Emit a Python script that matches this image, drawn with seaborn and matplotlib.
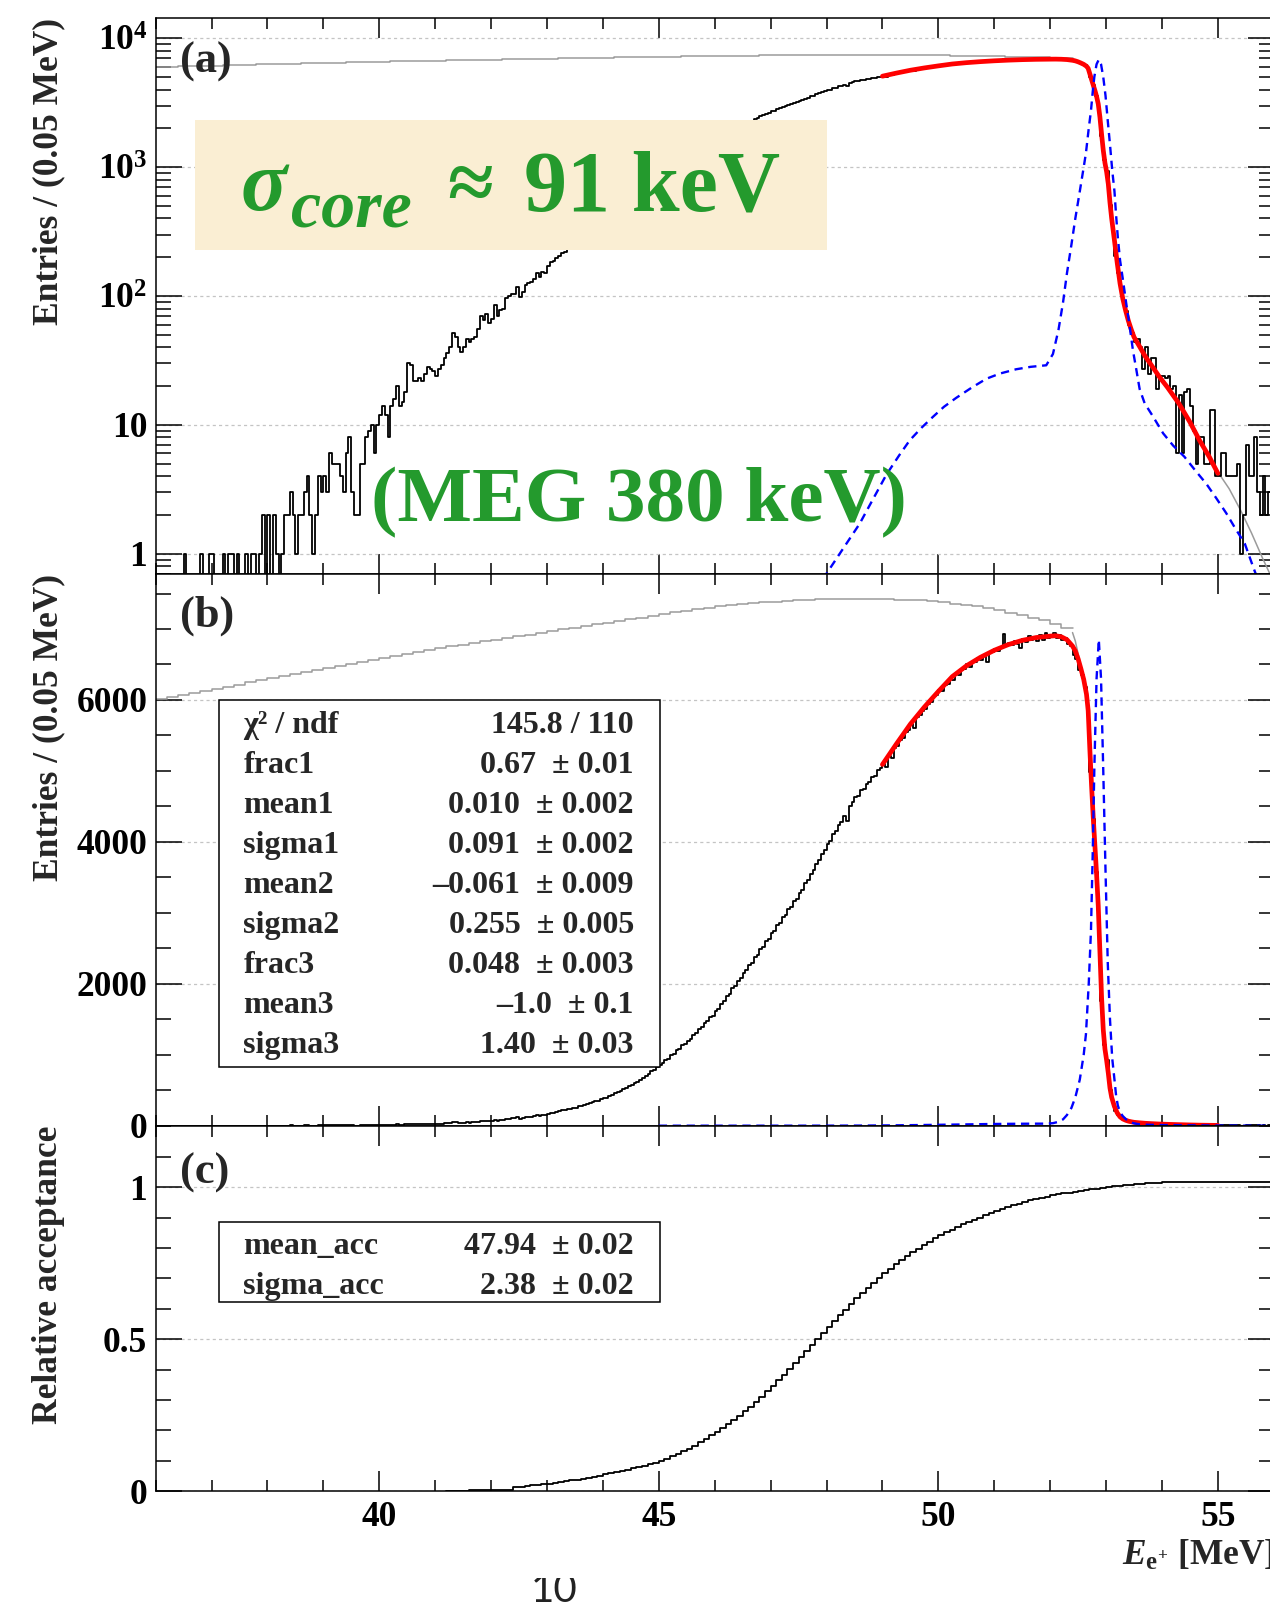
import numpy as np
import pandas as pd
import matplotlib
matplotlib.use("Agg")
import matplotlib.pyplot as plt
import seaborn as sns
from matplotlib.patches import Rectangle
from matplotlib.ticker import (FixedLocator, FixedFormatter, MultipleLocator,
                               LogLocator, NullFormatter)

# ---------------------------------------------------------------------------
# Positron energy spectrum, 0.05 MeV bins starting at 36 MeV (one row per MeV)
# ---------------------------------------------------------------------------
ENTRY_START, ENTRY_BIN = 36.0, 0.05
entries = [
    0, 0, 0, 0, 0, 0, 0, 0, 0, 0, 1, 0, 0, 0, 0, 0, 1, 0, 0, 1,                      # 36
    1, 0, 0, 0, 1, 0, 1, 1, 0, 1, 0, 0, 1, 0, 1, 1, 0, 1, 2, 0,                      # 37
    2, 0, 2, 1, 0, 1, 2, 2, 3, 2, 1, 2, 2, 3, 4, 2, 1, 2, 4, 3,                      # 38
    4, 3, 6, 5, 5, 5, 4, 3, 6, 8, 3, 2, 2, 5, 5, 8, 9, 10, 6, 10,                    # 39
    12, 14, 12, 8, 14, 16, 20, 14, 15, 18, 30, 29, 22, 22, 23, 22, 25, 28, 27, 26,   # 40
    24, 27, 29, 33, 36, 40, 52, 48, 40, 37, 40, 46, 44, 46, 48, 55, 70, 65, 72, 62,  # 41
    66, 85, 70, 78, 80, 97, 100, 104, 103, 118, 98, 108, 122, 126, 128, 135, 150, 140, 155, 150,
    170, 184, 186, 196, 203, 216, 218, 236, 238, 254, 256, 274, 280, 295, 302, 322, 328, 346, 352, 376,
    388, 396, 420, 430, 455, 468, 485, 512, 525, 556, 570, 600, 618, 650, 668, 705, 726, 765, 788, 826,
    862, 878, 925, 945, 990, 1012, 1060, 1080, 1131, 1150, 1196, 1225, 1281, 1305, 1362, 1390, 1445, 1470, 1526, 1552,
    1612, 1650, 1720, 1755, 1830, 1862, 1935, 1970, 2045, 2080, 2152, 2190, 2265, 2300, 2372, 2410, 2490, 2525, 2600, 2638,
    2712, 2745, 2830, 2860, 2940, 2968, 3050, 3080, 3165, 3195, 3278, 3320, 3415, 3460, 3552, 3600, 3695, 3740, 3835, 3880,
    3975, 4010, 4110, 4150, 4240, 4275, 4370, 4300, 4500, 4560, 4635, 4650, 4730, 4745, 4815, 4840, 4910, 4930, 5010, 5040,
    5095, 5060, 5210, 5180, 5320, 5350, 5430, 5460, 5545, 5570, 5660, 5600, 5755, 5790, 5850, 5870, 5950, 5970, 6050, 6070,
    6145, 6120, 6215, 6230, 6290, 6280, 6360, 6350, 6425, 6440, 6500, 6470, 6540, 6530, 6585, 6560, 6630, 6540, 6680, 6670,
    6720, 6690, 6750, 6930, 6760, 6800, 6770, 6830, 6790, 6730, 6860, 6810, 6900, 6840, 6880, 6830, 6920, 6850, 6950, 6870,
    6890, 6950, 6880, 6920, 6850, 6870, 6790, 6760, 6640, 6580, 6420, 6350, 6180, 5920, 4980, 4320, 3580, 2820, 1760, 1140,
    930, 510, 335, 205, 150, 112, 92, 76, 60, 52, 44, 46, 40, 27, 40, 25, 33, 33, 19, 24,
    24, 23, 24, 19, 20, 6, 17, 6, 18, 19, 14, 9, 5, 8, 8, 5, 5, 13, 13, 4,
    4, 6, 6, 4, 4, 4, 4, 5, 1, 2, 7, 4, 4, 8, 3, 2, 4, 2, 3, 3,                      # 55
]

# Spectrum before acceptance (grey), 0.2 MeV bins from 36 MeV, then its falling edge
GRAY_START, GRAY_BIN = 36.0, 0.2
gray_plateau = [
    6015, 6044, 6073, 6102, 6131, 6160, 6189, 6218, 6247, 6276,
    6305, 6334, 6363, 6392, 6421, 6450, 6479, 6508, 6537, 6566,
    6595, 6624, 6653, 6682, 6706, 6730, 6754, 6778, 6802, 6826,
    6850, 6874, 6898, 6922, 6946, 6970, 6994, 7018, 7042, 7066,
    7090, 7114, 7138, 7162, 7186, 7210, 7234, 7258, 7282, 7300,
    7318, 7334, 7348, 7362, 7374, 7386, 7396, 7405, 7412, 7418,
    7422, 7424, 7425, 7424, 7422, 7419, 7415, 7410, 7402, 7390,
    7375, 7358, 7340, 7320, 7295, 7262, 7228, 7195, 7160, 7122,
    7075, 7010,
]
gray_edge_E = [52.4, 52.45, 52.5, 52.55, 52.6, 52.65, 52.7, 52.75, 52.8, 52.85, 52.9,
               52.95, 53.0, 53.05, 53.1, 53.2, 53.3, 53.4, 53.5, 53.7, 54.0, 54.3,
               54.6, 55.0, 55.2, 55.4, 55.6, 55.8, 56.0]
gray_edge_val = [6950, 6830, 6650, 6470, 6320, 6110, 5650, 4760, 3980, 3330, 2330,
                 1370, 1010, 690, 405, 182, 96, 65, 48, 35, 22.5, 15,
                 8.6, 4.3, 3.2, 2.2, 1.45, 0.92, 0.6]

# Fitted model (red)
fit_E = [49.0, 49.25, 49.5, 49.75, 50.0, 50.25, 50.5, 50.75, 51.0, 51.25, 51.5, 51.75,
         52.0, 52.1, 52.2, 52.3, 52.4, 52.45, 52.5, 52.55, 52.6, 52.65, 52.68, 52.71,
         52.74, 52.77, 52.8, 52.83, 52.86, 52.89, 52.92, 52.95, 52.98, 53.01, 53.04,
         53.07, 53.1, 53.15, 53.2, 53.25, 53.3, 53.35, 53.4, 53.45, 53.5, 53.6, 53.7,
         53.8, 53.95, 54.1, 54.3, 54.5, 54.67, 54.85, 55.0]
fit_val = [5090, 5380, 5660, 5900, 6120, 6330, 6480, 6600, 6700, 6780, 6840, 6880,
           6900, 6905, 6890, 6850, 6760, 6690, 6580, 6440, 6290, 6080, 5850, 5300,
           4800, 4350, 3950, 3550, 3100, 2450, 1800, 1350, 1080, 920, 740,
           530, 400, 270, 180, 125, 95, 77, 64, 55, 48, 40.5, 34,
           29.5, 23.7, 19.5, 14.7, 10.5, 7.6, 5.6, 4.2]

# Detector response at the signal energy (blue dashed)
resp_E = [45.0, 45.5, 46.0, 46.5, 47.0, 47.5, 48.0, 48.3, 48.59, 48.8, 49.07, 49.3,
          49.49, 49.7, 49.9, 50.1, 50.32, 50.6, 50.86, 51.1, 51.39, 51.65, 51.93,
          52.05, 52.15, 52.23, 52.3, 52.38, 52.45, 52.53, 52.6, 52.64, 52.69, 52.73,
          52.76, 52.79, 52.83, 52.87, 52.91, 52.95, 52.99, 53.03, 53.07, 53.11, 53.15,
          53.18, 53.21, 53.25, 53.3, 53.36, 53.42, 53.48, 53.54, 53.6, 53.69, 53.84,
          54.02, 54.2, 54.4, 54.6, 54.79, 54.97, 55.15, 55.3, 55.48, 55.63, 55.8, 56.0]
resp_val = [0.03, 0.05, 0.09, 0.16, 0.28, 0.46, 0.70, 1.1, 1.7, 2.5, 4.1, 5.8,
            7.6, 9.5, 11.5, 13.8, 16.2, 19.5, 22.8, 25, 27, 28.2, 29,
            35.5, 55, 89, 150, 250, 400, 650, 1000, 1290, 2000, 2750,
            3800, 5030, 6300, 6850, 6300, 5000, 3600, 2300, 1500, 950, 650,
            420, 286, 190, 135, 88, 59, 38, 27, 19, 14.7, 11.6,
            8.6, 6.9, 5.66, 4.4, 3.5, 2.7, 2.06, 1.6, 1.2, 0.79, 0.5, 0.3]

# Relative acceptance, 0.1 MeV bins from 41.2 MeV
ACC_START, ACC_BIN = 41.2, 0.1
acceptance = [
    0.000, 0.000, 0.001, 0.001, 0.002, 0.002, 0.003, 0.003,
    0.004, 0.004, 0.005, 0.005, 0.014, 0.015, 0.017, 0.019, 0.021, 0.023,
    0.025, 0.027, 0.030, 0.032, 0.035, 0.038, 0.041, 0.044, 0.048, 0.051,
    0.055, 0.058, 0.062, 0.066, 0.070, 0.075, 0.079, 0.084, 0.089, 0.094,
    0.100, 0.107, 0.115, 0.123, 0.131, 0.140, 0.150, 0.161, 0.172, 0.183,
    0.195, 0.208, 0.221, 0.234, 0.248, 0.262, 0.278, 0.294, 0.311, 0.328,
    0.345, 0.364, 0.383, 0.402, 0.421, 0.440, 0.460, 0.480, 0.500, 0.520,
    0.540, 0.559, 0.578, 0.597, 0.616, 0.635, 0.652, 0.669, 0.685, 0.701,
    0.718, 0.732, 0.746, 0.760, 0.774, 0.787, 0.798, 0.809, 0.820, 0.831,
    0.842, 0.851, 0.860, 0.868, 0.877, 0.885, 0.893, 0.900, 0.908, 0.915,
    0.922, 0.928, 0.934, 0.940, 0.946, 0.952, 0.956, 0.960, 0.965, 0.969,
    0.973, 0.976, 0.979, 0.982, 0.985, 0.988, 0.990, 0.993, 0.995, 0.998,
    1.000, 1.002, 1.004, 1.006, 1.008, 1.010, 1.011, 1.013, 1.014, 1.015,
    1.016, 1.016, 1.016, 1.017, 1.017, 1.017, 1.017, 1.017, 1.017, 1.017,
    1.017, 1.017, 1.017, 1.017, 1.017, 1.017, 1.017, 1.017, 1.017, 1.017,
]

# Fit results
fit_names = ["χ² / ndf", "frac1", "mean1", "sigma1", "mean2", "sigma2",
             "frac3", "mean3", "sigma3"]
fit_values = ["145.8 / 110", "0.67  ± 0.01", "0.010  ± 0.002", "0.091  ± 0.002",
              "–0.061  ± 0.009", "0.255  ± 0.005", "0.048  ± 0.003",
              "–1.0  ± 0.1", "1.40  ± 0.03"]
acc_names = ["mean_acc", "sigma_acc"]
acc_values = ["47.94  ± 0.02", "2.38  ± 0.02"]

x_major = [40, 45, 50, 55]
log_ticks = [1, 10, 100, 1000, 10000]
log_labels = ["1", "10", r"$10^{2}$", r"$10^{3}$", r"$10^{4}$"]
lin_ticks = [0, 2000, 4000, 6000]
lin_labels = ["0", "2000", "4000", "6000"]
acc_ticks = [0, 0.5, 1]
acc_labels = ["0", "0.5", "1"]

# ---------------------------------------------------------------------------
sns.set_theme(style="ticks")
plt.rcParams["font.family"] = ["Liberation Serif", "DejaVu Serif"]
plt.rcParams["font.weight"] = "bold"
plt.rcParams["mathtext.fontset"] = "custom"
plt.rcParams["mathtext.rm"] = "Liberation Serif:bold"
plt.rcParams["mathtext.bf"] = "Liberation Serif:bold"
plt.rcParams["mathtext.it"] = "Liberation Serif:italic:bold"
plt.rcParams["axes.edgecolor"] = "black"
plt.rcParams["axes.linewidth"] = 1.1

FIG_W, FIG_H = 1270, 1605


def fx(px):
    return px / FIG_W


def fy(py):
    return 1.0 - py / FIG_H


def step_frame(start, width, values):
    edges = start + width * np.arange(len(values) + 1)
    return pd.DataFrame({"E": edges, "y": np.append(values, values[-1])})


AX_L, AX_R = 155.6, 1273.8
panels = {"a": (18.4, 573.6), "b": (573.6, 1125.7), "c": (1125.7, 1491.1)}

fig = plt.figure(figsize=(FIG_W / 100, FIG_H / 100), dpi=100)
axes = {}
for key, (top, bot) in panels.items():
    axes[key] = fig.add_axes([fx(AX_L), fy(bot), (AX_R - AX_L) / FIG_W, (bot - top) / FIG_H])

entries_df = step_frame(ENTRY_START, ENTRY_BIN, entries)
gray_df = step_frame(GRAY_START, GRAY_BIN, gray_plateau)
gray_tail_df = pd.DataFrame({"E": gray_edge_E, "y": gray_edge_val})
fit_df = pd.DataFrame({"E": fit_E, "y": fit_val})
resp_df = pd.DataFrame({"E": resp_E, "y": resp_val})
acc_df = step_frame(ACC_START, ACC_BIN, acceptance)

line_kw = dict(x="E", y="y", estimator=None, sort=False, errorbar=None)

for key in ("a", "b"):
    ax = axes[key]
    sns.lineplot(data=gray_df, drawstyle="steps-post", color="#9b9b9b", lw=1.1, ax=ax, **line_kw)
    sns.lineplot(data=gray_tail_df, color="#9b9b9b", lw=1.1, ax=ax, **line_kw)
    sns.lineplot(data=entries_df, drawstyle="steps-post", color="black", lw=1.3, ax=ax, **line_kw)
    sns.lineplot(data=fit_df, color="#ff0000", lw=3.4, ax=ax, **line_kw)
    sns.lineplot(data=resp_df, color="#0000ff", lw=1.7, ax=ax, **line_kw)
    ax.lines[-1].set_dashes([3.5, 2.4])

sns.lineplot(data=acc_df, drawstyle="steps-post", color="black", lw=1.3, ax=axes["c"], **line_kw)

axes["a"].set_yscale("log")
axes["a"].set_ylim(0.70, 14300)
axes["a"].yaxis.set_major_locator(FixedLocator(log_ticks))
axes["a"].yaxis.set_major_formatter(FixedFormatter(log_labels))
axes["a"].yaxis.set_minor_locator(LogLocator(base=10, subs=np.arange(2, 10), numticks=30))
axes["a"].yaxis.set_minor_formatter(NullFormatter())

axes["b"].set_ylim(0, 7781)
axes["b"].yaxis.set_major_locator(FixedLocator(lin_ticks))
axes["b"].yaxis.set_major_formatter(FixedFormatter(lin_labels))
axes["b"].yaxis.set_minor_locator(MultipleLocator(500))

axes["c"].set_ylim(0, 1.202)
axes["c"].yaxis.set_major_locator(FixedLocator(acc_ticks))
axes["c"].yaxis.set_major_formatter(FixedFormatter(acc_labels))
axes["c"].yaxis.set_minor_locator(MultipleLocator(0.1))

for key, ax in axes.items():
    ax.set_xlim(36, 56)
    ax.set_xlabel("")
    ax.set_ylabel("")
    ax.xaxis.set_major_locator(FixedLocator(x_major))
    ax.xaxis.set_major_formatter(FixedFormatter([str(v) for v in x_major]))
    ax.xaxis.set_minor_locator(MultipleLocator(1))
    ax.tick_params(axis="x", which="major", direction="in", length=14.5, width=1.1,
                   top=True, bottom=True, labelbottom=(key == "c"), labelsize=25.5,
                   pad=7, colors="black")
    ax.tick_params(axis="x", which="minor", direction="in", length=8, width=1.1,
                   top=True, bottom=True, colors="black")
    ax.tick_params(axis="y", which="major", direction="in", length=18.5, width=1.1,
                   left=True, right=True, labelsize=25.5, pad=6, colors="black")
    ax.tick_params(axis="y", which="minor", direction="in", length=10.5, width=1.1,
                   left=True, right=True, colors="black")
    ax.grid(False)
    ax.yaxis.grid(True, which="major", color="#c4c4c4", linestyle=(0, (2.5, 2.5)), linewidth=0.9)
    ax.set_facecolor("white")
    for s in ax.spines.values():
        s.set_color("black")
        s.set_linewidth(1.1)

# axis titles
fig.text(fx(49), fy(18.4), "Entries / (0.05 MeV)", rotation=90, ha="center", va="top",
         fontsize=25.5, weight="bold")
fig.text(fx(49), fy(573.6), "Entries / (0.05 MeV)", rotation=90, ha="center", va="top",
         fontsize=25.5, weight="bold")
fig.text(fx(49), fy(1125.7), "Relative acceptance", rotation=90, ha="center", va="top",
         fontsize=25.5, weight="bold")
fig.text(fx(1121.8), fy(1565), r"$\mathit{E}_{\mathrm{e}^{+}}$ [MeV]", ha="left",
         va="baseline", fontsize=25.5, weight="bold")

# panel tags
for tag, ycen in (("(a)", 62), ("(b)", 615.5), ("(c)", 1172.5)):
    fig.text(fx(180), fy(ycen), tag, ha="left", va="center", fontsize=32, weight="bold")


def stat_box(x0, y0, x1, y1, names, values, baseline0, step):
    fig.add_artist(Rectangle((fx(x0), fy(y1)), (x1 - x0) / FIG_W, (y1 - y0) / FIG_H,
                             transform=fig.transFigure, facecolor="white",
                             edgecolor="black", lw=1.1, zorder=2))
    for i, (n, v) in enumerate(zip(names, values)):
        yb = fy(baseline0 + i * step)
        fig.text(fx(243.3), yb, n, ha="left", va="baseline", fontsize=23, weight="bold", zorder=3)
        fig.text(fx(634), yb, v, ha="right", va="baseline", fontsize=23, weight="bold", zorder=3)


stat_box(219, 700, 660, 1067, fit_names, fit_values, 733, 40)
stat_box(219, 1222, 660, 1302, acc_names, acc_values, 1254, 40)

# highlighted resolution note
GREEN = "#249a2d"
fig.add_artist(Rectangle((fx(194.7), fy(250)), (826.9 - 194.7) / FIG_W, 130 / FIG_H,
                         transform=fig.transFigure, facecolor="#faeed3",
                         edgecolor="none", zorder=2))
fig.text(fx(241), fy(210), "σ", fontsize=62, style="italic", weight="bold", color=GREEN,
         ha="left", va="baseline", zorder=4)
fig.text(fx(291.5), fy(226.7), "core", fontsize=49, style="italic", weight="bold",
         color=GREEN, ha="left", va="baseline", zorder=4)
fig.text(fx(447), fy(210), "≈", fontsize=60, weight="bold", color=GREEN,
         ha="left", va="baseline", zorder=4)
fig.text(fx(524), fy(211), "91 keV", fontsize=62, weight="bold", color=GREEN,
         ha="left", va="baseline", zorder=4)
fig.text(fx(371), fy(521), "(MEG 380 keV)", fontsize=57, weight="bold", color=GREEN,
         ha="left", va="baseline", zorder=4)

# slide page number, partly hidden behind the plot area
fig.text(fx(531), fy(1602), "10", family=["Lato", "DejaVu Sans"], weight="normal",
         fontsize=29, color="#222222", ha="left", va="baseline", zorder=3)
fig.add_artist(Rectangle((fx(480), fy(1578)), 140 / FIG_W, 50 / FIG_H,
                         transform=fig.transFigure, facecolor="white",
                         edgecolor="none", zorder=10))

fig.savefig("out.png", dpi=100, facecolor="white")
